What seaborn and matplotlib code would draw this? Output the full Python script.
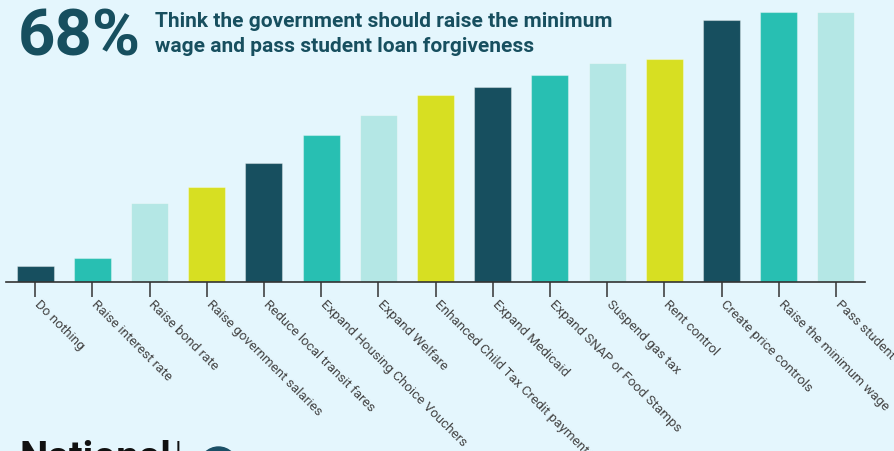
import matplotlib
matplotlib.use("Agg")
import matplotlib.pyplot as plt
import matplotlib.transforms as mtransforms
import seaborn as sns
import pandas as pd
from matplotlib.patches import Ellipse

# Policy options and share of respondents supporting each (%)
policies = [
    "Do nothing", "Raise interest rate", "Raise bond rate",
    "Raise government salaries", "Reduce local transit fares",
    "Expand Housing Choice Vouchers", "Expand Welfare",
    "Enhanced Child Tax Credit payments", "Expand Medicaid",
    "Expand SNAP or Food Stamps", "Suspend gas tax", "Rent control",
    "Create price controls", "Raise the minimum wage",
    "Pass student loan forgiveness",
]
support = [4, 6, 20, 24, 30, 37, 42, 47, 49, 52, 55, 56, 66, 68, 68]

headline_value = "68%"
headline_text = "Think the government should raise the minimum\nwage and pass student loan forgiveness"

DARK = "#174f5f"
TEAL = "#28bfb2"
LIGHT = "#b4e7e5"
LIME = "#d7df22"
BG = "#e4f6fd"
bar_colors = [DARK, TEAL, LIGHT, LIME] * 4

sns.set_theme(style="white")
plt.rcParams["font.family"] = ["Roboto", "DejaVu Sans"]

df = pd.DataFrame({"policy": policies, "support": support})

fig = plt.figure(figsize=(8.94, 4.51), dpi=100, facecolor=BG)
W, H = 894, 451
ax_left, ax_right = 6.5, 864.5
ax_base, ax_top = 282, 0
ax = fig.add_axes([ax_left / W, (H - ax_base) / H,
                   (ax_right - ax_left) / W, (ax_base - ax_top) / H])
ax.set_facecolor(BG)

sns.barplot(data=df, x="policy", y="support", hue="policy", order=policies,
            palette=bar_colors[:len(policies)], legend=False, width=0.65,
            saturation=1, ax=ax, edgecolor=(1, 1, 1, 0.35), linewidth=0.8)

ax.set_xlim(-0.5, len(policies) - 0.5)
ax.set_ylim(0, 68 * 282 / 270.3)
ax.set_xlabel("")
ax.set_ylabel("")
ax.set_yticks([])
for s in ["top", "right", "left"]:
    ax.spines[s].set_visible(False)
ax.spines["bottom"].set_color("#333333")
ax.spines["bottom"].set_linewidth(1.2)
ax.tick_params(axis="x", which="both", bottom=True, length=11, width=1.1,
               color="#333333", pad=2)
ax.set_xticks(range(len(policies)))
ax.set_xticklabels(policies, rotation=-45, ha="left", va="top",
                   rotation_mode="anchor", fontsize=9.6, color="#444444")
# nudge the slanted labels so each one starts just right of its tick
shift = mtransforms.ScaledTranslation(6 / 100, 2 / 100, fig.dpi_scale_trans)
for lbl in ax.get_xticklabels():
    lbl.set_transform(lbl.get_transform() + shift)
    lbl.set_clip_on(False)

# Headline
fig.text(18 / W, 1 - 38 / H, headline_value, fontsize=47, fontweight="bold",
         color=DARK, ha="left", va="center")
fig.text(155 / W, 1 - 34 / H, headline_text, fontsize=15, fontweight="bold",
         color=DARK, ha="left", va="center", linespacing=1.45)

# Footer logo
fig.text(20 / W, 1 - 440 / H, "National", fontsize=29, fontweight="bold",
         color="#111111", ha="left", va="top")
fig.text(175 / W, 1 - 440 / H, "|", fontsize=20, color="#111111",
         ha="left", va="top")
fig.patches.append(Ellipse((218.5 / W, 1 - 466 / H), 38 / W, 38 / H,
                           transform=fig.transFigure, color="#1a4f66",
                           zorder=3))

fig.savefig("out.png", dpi=100, facecolor=BG)
